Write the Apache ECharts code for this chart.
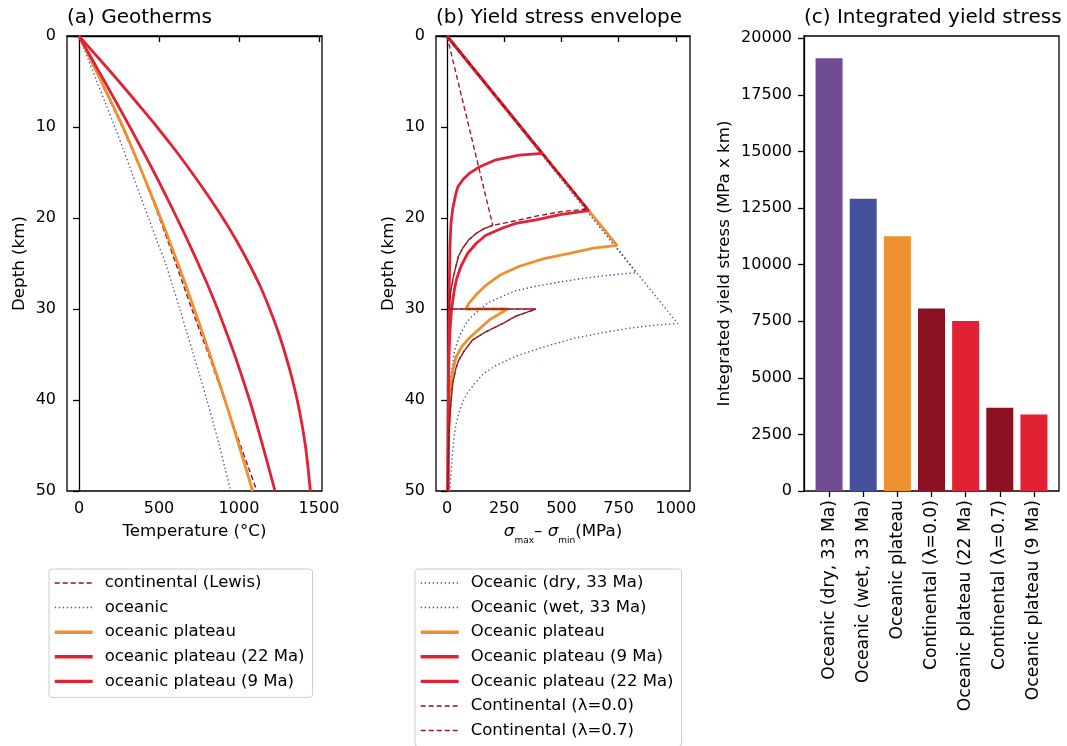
<!DOCTYPE html>
<html><head><meta charset="utf-8">
<script src="https://cdn.jsdelivr.net/npm/echarts@6/dist/echarts.min.js"></script>
<style>html,body{margin:0;padding:0;background:#fff}#c{width:1067px;height:746px}</style>
</head><body><div id="c"></div>
<script>
// ---------- Panel (a) Geotherms ----------
const depthA = [0,2.5,5,7.5,10,12.5,15,17.5,20,22.5,25,27.5,30,32.5,35,37.5,40,42.5,45,47.5,50];
const tLewis     = [0,69,137,204,270,332,392,449,503,555,605,655,705,757,810,860,910,960,1010,1061,1112];
const tOceanic   = [0,56,112,168,224,278,330,382,435,487,541,586,630,673,716,758,799,839,877,913,948];
const tPlateau   = [0,71,140,208,275,336,395,453,510,565,618,670,720,770,818,866,912,957,1000,1043,1085];
const tPlateau22 = [0,80,160,240,318,395,470,542,612,680,745,808,866,920,972,1020,1066,1108,1148,1187,1225];
const tPlateau9  = [0,126,250,370,488,600,705,805,899,985,1062,1133,1192,1245,1290,1330,1364,1392,1415,1432,1446];
const namesA = ['continental (Lewis)','oceanic','oceanic plateau','oceanic plateau (22 Ma)','oceanic plateau (9 Ma)'];
const tempTicks = [0,500,1000,1500];

// ---------- Panel (b) Yield stress envelope ----------
const dryStress = [0,1008,900,800,680,560,460,370,300,214,160,127,90,69,50,39,30,25,18,13,12];
const dryDepth  = [0,31.6,31.8,32.1,32.6,33.2,33.9,34.6,35.2,36.2,37.1,38.0,39.2,40.2,41.6,42.7,44.3,45.7,47.8,49.7,50];
const wetStress = [0,826,700,607,500,389,300,243,180,141,105,83,54,32,17.5,10,7,5,4];
const wetDepth  = [0,26.0,26.3,26.6,27.0,27.5,28.0,28.6,29.3,30.1,30.9,31.6,33.0,34.7,37.3,40.2,43,46.5,50];
const plateauStress = [0,743,640,535,420,316,230,170,125,95,83,265,185,141,97,65,39,25,17,11,7,5];
const plateauDepth  = [0,23.0,23.3,23.9,24.5,25.3,26.3,27.4,28.5,29.4,30.0,30.0,31.2,32.2,33.2,34.1,35.3,36.8,38.4,41,44.5,50];
const p9Stress = [0,415,316,214,141,97,69,47,39,25,17.5,13,10,8,6,5,4];
const p9Depth  = [0,12.9,13.1,13.6,14.4,15.1,15.8,16.6,17.3,19.0,20.6,23,27.9,32,38,44,50];
const p22Stress = [0,619,500,389,300,243,170,127,90,61,42,32,20,14,9,6,5,4];
const p22Depth  = [0,19.2,19.6,20.2,20.6,21.1,21.9,22.8,23.9,25.3,26.7,27.9,30,32,35,40,45,50];
const c0Stress = [0,615,500,389,300,243,200,160,127,95,69,50,39,27,17.5,12,10,389,300,243,170,112,75,50,39,25,17.5,10,6,3];
const c0Depth  = [0,19.0,19.3,19.8,20.3,20.6,20.8,21.2,21.7,22.4,23.3,24.2,25.3,26.6,27.9,29,30,30,30.8,31.6,32.5,33.4,34.6,35.7,36.5,38.2,40.2,43,46,50];
const c7Stress = [0,200,160,127,95,69,50,39,27,17.5,12,10,389,300,243,170,112,75,50,39,25,17.5,10,6,3];
const c7Depth  = [0,20.8,21.2,21.7,22.4,23.3,24.2,25.3,26.6,27.9,29,30,30,30.8,31.6,32.5,33.4,34.6,35.7,36.5,38.2,40.2,43,46,50];
const namesB = ['Oceanic (dry, 33 Ma)','Oceanic (wet, 33 Ma)','Oceanic plateau','Oceanic plateau (9 Ma)','Oceanic plateau (22 Ma)','Continental (\u03bb=0.0)','Continental (\u03bb=0.7)'];
const stressTicks = [0,250,500,750,1000];

// ---------- Panel (c) Integrated yield stress ----------
const barCats = ['Oceanic (dry, 33 Ma)','Oceanic (wet, 33 Ma)','Oceanic plateau','Continental (\u03bb=0.0)','Oceanic plateau (22 Ma)','Continental (\u03bb=0.7)','Oceanic plateau (9 Ma)'];
const barVals = [19118,12906,11249,8059,7513,3673,3379];
const yieldTicks = [0,2500,5000,7500,10000,12500,15000,17500,20000];

// ---------- styles ----------
const C = {purple:'#724b95', blue:'#44519c', orange:'#ee8f31', dark:'#8b1222', dark2:'#9e1a2a', red:'#e12134'};
const barColors = [C.purple, C.blue, C.orange, C.dark, C.red, C.dark, C.red];
const FONT = "'DejaVu Sans', sans-serif";
const txt = {fontFamily: FONT, fontSize: 16, color: '#000'};
const nameTxt = {fontFamily: FONT, fontSize: 16.7, color: '#000'};
const plain = (v) => String(v);
const aLine = {show: true, lineStyle: {color: '#000', width: 1.3}};
const aTick = (vals) => ({show: true, length: 6, lineStyle: {color: '#000', width: 1.3}, customValues: vals});
const zip = (xs, ys) => xs.map((x, i) => [x, ys[i]]);
const thick = 2.8, thin = 1.4, legThick = 3.4, legThin = 1.5;
const DOT = [1.4, 2.6], DASH = [5, 3];
const widthsA = [thin, thin, thick, thick, thick];
const widthsB = [thin, thin, thick, thick, thick, thin, thin];

function lineSeries(name, xs, ys, gi, color, width, type, smooth) {
  return {
    name, type: 'line', xAxisIndex: gi, yAxisIndex: gi, data: zip(xs, ys),
    symbol: 'none', smooth: smooth || false, silent: true,
    lineStyle: {color, width, type: type || 'solid', cap: 'butt'},
    itemStyle: {color}
  };
}

const depthAxis = (gi) => ({
  gridIndex: gi, type: 'value', inverse: true, min: 0, max: 50, interval: 10,
  name: 'Depth (km)', nameLocation: 'middle', nameGap: 39, nameTextStyle: nameTxt,
  axisLine: aLine, axisTick: {show: true, length: 6, lineStyle: {color: '#000', width: 1.3}},
  axisLabel: Object.assign({margin: 11, formatter: plain}, txt), splitLine: {show: false}
});

const legendData = (names, widths) => names.map((n, i) => ({
  name: n, lineStyle: {width: widths[i] === thick ? legThick : legThin}
}));

const legendCommon = {
  orient: 'vertical', itemWidth: 38, itemHeight: 14, itemGap: 6.6, height: 220,
  padding: [5, 8, 7, 4], borderColor: '#cccccc', borderWidth: 1, borderRadius: 3,
  backgroundColor: '#fff', selectedMode: false,
  itemStyle: {opacity: 0}, lineStyle: {width: 'inherit'},
  textStyle: {fontFamily: FONT, fontSize: 16.5, color: '#000', lineHeight: 18, padding: [0, 0, 0, 7]}
};

const titleStyle = {fontFamily: FONT, fontSize: 20, fontWeight: 'normal', color: '#000'};

const option = {
  animation: false,
  backgroundColor: '#fff',
  title: [
    {text: '(a) Geotherms', left: 67, top: 8, padding: 0, textStyle: titleStyle},
    {text: '(b) Yield stress envelope', left: 436, top: 8, padding: 0, textStyle: titleStyle},
    {text: '(c) Integrated yield stress', left: 804, top: 8, padding: 0, textStyle: titleStyle}
  ],
  legend: [
    Object.assign({data: legendData(namesA, widthsA), left: 49, top: 569}, legendCommon),
    Object.assign({data: legendData(namesB, widthsB), left: 415, top: 569}, legendCommon)
  ],
  grid: [
    {left: 67, top: 36, width: 255, height: 455, show: true, borderColor: '#000', borderWidth: 1.3},
    {left: 436, top: 36, width: 254, height: 455, show: true, borderColor: '#000', borderWidth: 1.3},
    {left: 804, top: 36, width: 255, height: 455, show: true, borderColor: '#000', borderWidth: 1.3},
    {left: 812, top: 36, width: 239, height: 455}
  ],
  xAxis: [
    {gridIndex: 0, type: 'value', min: -75, max: 1519,
     name: 'Temperature (\u00b0C)', nameLocation: 'middle', nameGap: 32, nameTextStyle: nameTxt,
     axisLine: aLine, axisTick: aTick(tempTicks),
     axisLabel: Object.assign({margin: 10, customValues: tempTicks, formatter: plain}, txt), splitLine: {show: false}},
    {gridIndex: 1, type: 'value', min: -48, max: 1062,
     name: '{i|\u03c3}{s|max}{n|\u2013 }{i|\u03c3}{s|min}{n|(MPa)}', nameLocation: 'middle', nameGap: 32,
     nameTextStyle: Object.assign({}, nameTxt, {rich: {
       i: {fontFamily: FONT, fontSize: 16.7, fontStyle: 'italic', color: '#000', lineHeight: 18, verticalAlign: 'top'},
       n: {fontFamily: FONT, fontSize: 16.7, color: '#000', lineHeight: 18, verticalAlign: 'top'},
       s: {fontFamily: FONT, fontSize: 9, color: '#000', lineHeight: 9, padding: [13, 0, 0, 0], verticalAlign: 'top'}
     }}),
     axisLine: aLine, axisTick: aTick(stressTicks),
     axisLabel: Object.assign({margin: 10, customValues: stressTicks, formatter: plain}, txt), splitLine: {show: false}},
    {gridIndex: 2, type: 'value', min: 0, max: 1, show: false},
    {gridIndex: 3, type: 'category', data: barCats,
     axisLine: {show: false},
     axisTick: {show: true, alignWithLabel: true, length: 6, lineStyle: {color: '#000', width: 1.3}},
     axisLabel: {rotate: 90, interval: 0, margin: 9, fontFamily: FONT, fontSize: 17.2, color: '#000'},
     splitLine: {show: false}}
  ],
  yAxis: [
    depthAxis(0),
    depthAxis(1),
    {gridIndex: 2, type: 'value', min: 0, max: 1, show: false},
    {gridIndex: 3, type: 'value', min: 0, max: 20100, offset: 8,
     name: 'Integrated yield stress (MPa x km)', nameLocation: 'middle', nameGap: 71, nameTextStyle: nameTxt,
     axisLine: aLine, axisTick: aTick(yieldTicks),
     axisLabel: Object.assign({margin: 12, customValues: yieldTicks, formatter: plain}, txt), splitLine: {show: false}}
  ],
  series: [
    lineSeries(namesA[0], tLewis, depthA, 0, C.dark, thin, DASH, 0.3),
    lineSeries(namesA[1], tOceanic, depthA, 0, C.purple, thin, DOT, 0.3),
    lineSeries(namesA[2], tPlateau, depthA, 0, C.orange, thick, 'solid', 0.3),
    lineSeries(namesA[3], tPlateau22, depthA, 0, C.red, thick, 'solid', 0.3),
    lineSeries(namesA[4], tPlateau9, depthA, 0, C.red, thick, 'solid', 0.3),

    lineSeries(namesB[0], dryStress, dryDepth, 1, C.purple, thin, DOT),
    lineSeries(namesB[1], wetStress, wetDepth, 1, C.blue, thin, DOT),
    lineSeries(namesB[2], plateauStress, plateauDepth, 1, C.orange, thick),
    lineSeries(namesB[3], p9Stress, p9Depth, 1, C.red, thick),
    lineSeries(namesB[4], p22Stress, p22Depth, 1, C.red, thick),
    lineSeries(namesB[5], c0Stress, c0Depth, 1, C.dark, thin, DASH),
    lineSeries(namesB[6], c7Stress, c7Depth, 1, C.dark2, thin, DASH),

    {type: 'bar', xAxisIndex: 3, yAxisIndex: 3, barWidth: 27, silent: true,
     data: barVals.map((v, i) => ({value: v, itemStyle: {color: barColors[i]}}))}
  ]
};

const chart = echarts.init(document.getElementById('c'), null, {renderer: 'canvas'});
chart.setOption(option);
</script>
</body></html>
